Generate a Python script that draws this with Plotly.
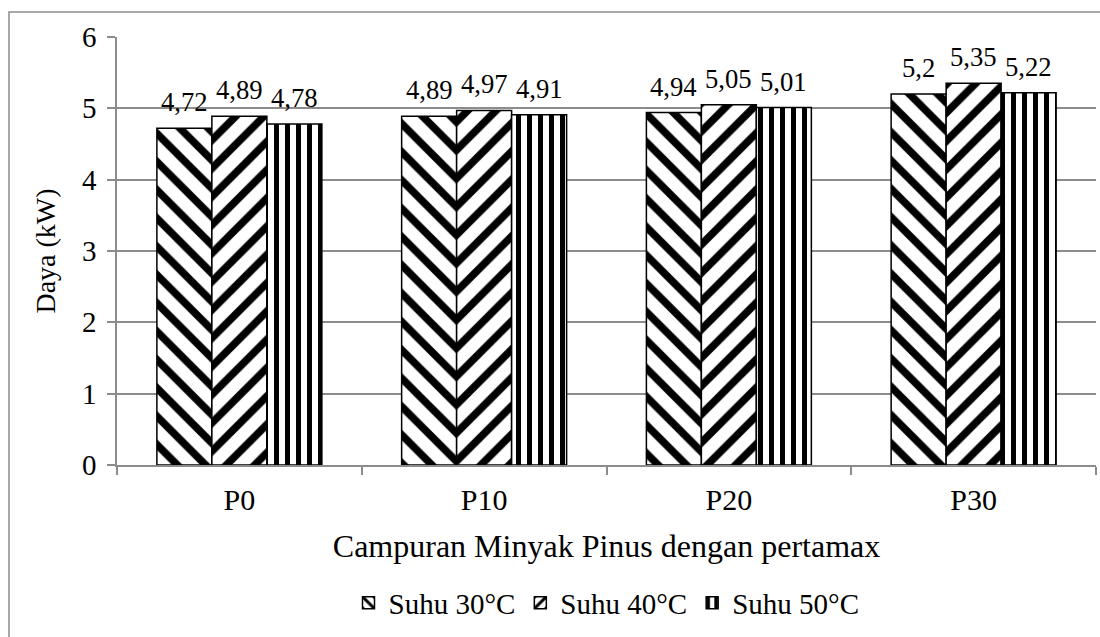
import plotly.graph_objects as go

categories = ["P0", "P10", "P20", "P30"]
series_names = ["Suhu 30°C", "Suhu 40°C", "Suhu 50°C"]
suhu30 = [4.72, 4.89, 4.94, 5.2]
suhu40 = [4.89, 4.97, 5.05, 5.35]
suhu50 = [4.78, 4.91, 5.01, 5.22]
y_ticks = [0, 1, 2, 3, 4, 5, 6]

FONT = "Liberation Serif"
GRID = "#8c8c8c"
BARGAP = 0.326

def fmt(v):
    return f"{v:g}".replace(".", ",")

patterns = [("\\", 20, 0.38), ("/", 20, 0.38), ("|", 11, 0.45)]
all_series = [suhu30, suhu40, suhu50]
fig = go.Figure()
for name, vals, (shape, size, sol) in zip(series_names, all_series, patterns):
    fig.add_trace(go.Bar(
        x=categories, y=vals, name=name,
        marker=dict(color="white", line=dict(color="black", width=1.5),
                    pattern=dict(shape=shape, size=size, solidity=sol,
                                 fgcolor="black", bgcolor="white", fillmode="replace")),
    ))

# value labels above each bar
bar_w = (1 - BARGAP) / len(all_series)
annotations = []
for s, vals in enumerate(all_series):
    off = (s - (len(all_series) - 1) / 2) * bar_w
    for i, v in enumerate(vals):
        annotations.append(dict(x=i + off, y=v, xref="x", yref="y", text=fmt(v),
                                showarrow=False, yanchor="bottom", yshift=9,
                                font=dict(family=FONT, size=26.7, color="black")))

fig.update_layout(
    width=1100, height=637,
    margin=dict(l=117, r=4, t=37, b=172),
    paper_bgcolor="white", plot_bgcolor="white",
    barmode="group", bargap=BARGAP, bargroupgap=0,
    font=dict(family=FONT, size=26.7, color="black"),
    legend=dict(orientation="h", x=0.5, xanchor="center", y=-0.322, yanchor="middle",
                font=dict(family=FONT, size=29, color="black"),
                itemwidth=30, tracegroupgap=0),
    annotations=annotations,
    xaxis=dict(
        showline=True, linecolor=GRID, linewidth=1.5,
        ticks="outside", tickson="boundaries", ticklen=8, tickcolor=GRID, tickwidth=1.5,
        ticklabelstandoff=7,
        tickfont=dict(family=FONT, size=30, color="black"),
        title=dict(text="Campuran Minyak Pinus dengan pertamax",
                   font=dict(family=FONT, size=32, color="black"), standoff=20),
    ),
    yaxis=dict(
        range=[0, 6], tickvals=y_ticks, ticktext=[str(t) for t in y_ticks],
        showline=True, linecolor=GRID, linewidth=1.5,
        ticks="outside", ticklen=8, tickcolor=GRID, tickwidth=1.5,
        ticklabelstandoff=5,
        showgrid=True, gridcolor=GRID, gridwidth=1.5, zeroline=False,
        tickfont=dict(family=FONT, size=29, color="black"),
        title=dict(text="Daya (kW)", font=dict(family=FONT, size=28, color="black"), standoff=18),
    ),
    shapes=[dict(type="rect", xref="paper", yref="paper",
                 x0=(9 - 117) / 979, x1=1.05, y0=-0.6, y1=(465 - 12) / 428,
                 line=dict(color=GRID, width=1.5), fillcolor="rgba(0,0,0,0)", layer="below")],
)

fig.write_html("out.html")
